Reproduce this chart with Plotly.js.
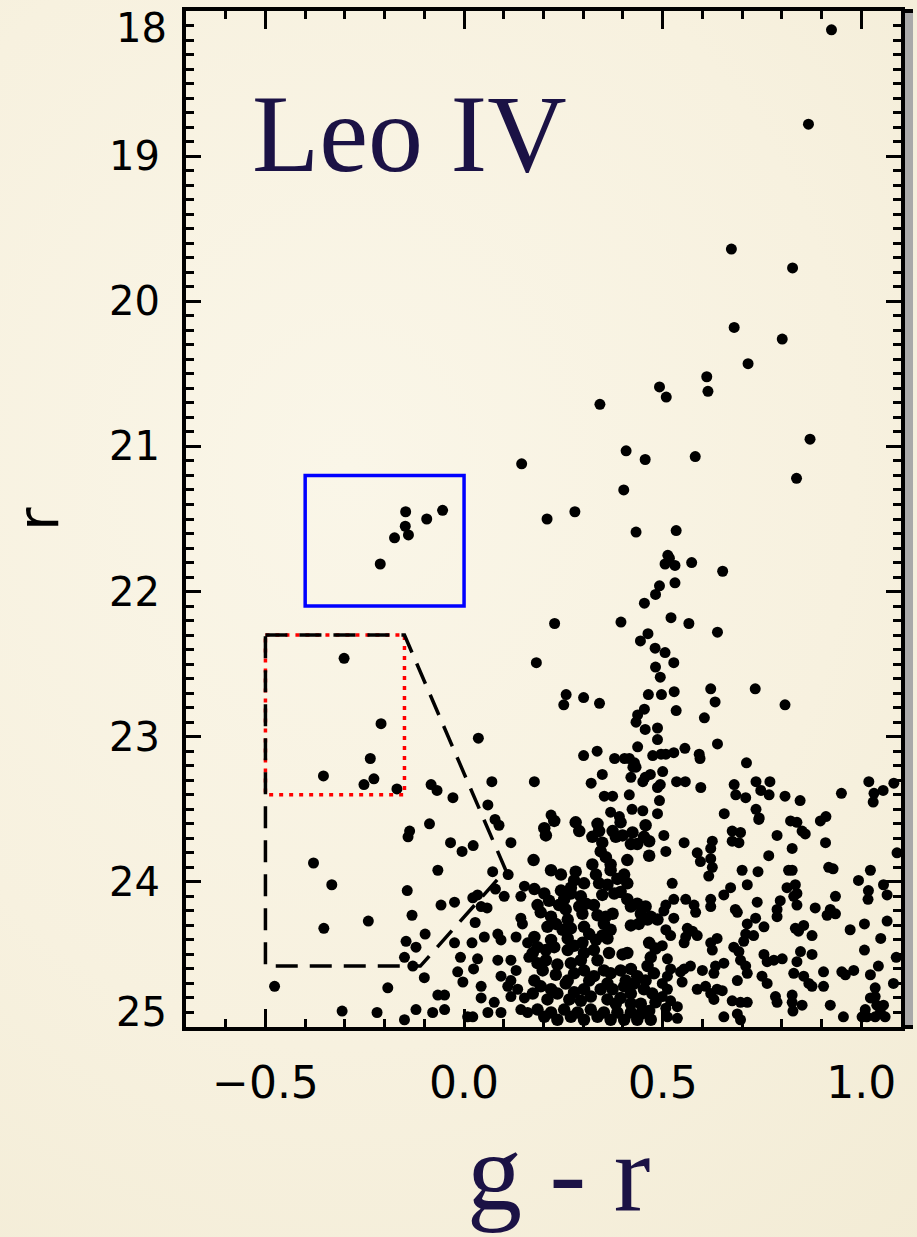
<!DOCTYPE html>
<html>
<head>
<meta charset="utf-8">
<script src="https://cdn.plot.ly/plotly-3.0.1.min.js"></script>
<style>
html,body{margin:0;padding:0;}
body{width:917px;height:1237px;overflow:hidden;
background: radial-gradient(ellipse 100% 85% at 38% 38%, #faf6e8 0%, #f7f1df 55%, #f2ebd4 100%);}
#chart{width:917px;height:1237px;}
</style>
</head>
<body>
<div id="chart"></div>
<script>
// ---- axis ticks ----
const xTickVals = [-0.5, 0.0, 0.5, 1.0];
const xTickText = ['\u22120.5', '0.0', '0.5', '1.0'];
const yTickVals = [18, 19, 20, 21, 22, 23, 24, 25];
const yTickText = ['18', '19', '20', '21', '22', '23', '24', '25'];

// ---- selection regions (g-r, r) ----
const bhbBoxGR = [-0.40, 0.00];
const bhbBoxR = [21.2, 22.1];
const bssBoxGR = [-0.50, -0.15];
const bssBoxR = [22.3, 23.4];
const dashedRegionGR = [-0.50, -0.15, 0.105, -0.11, -0.50];
const dashedRegionR = [22.3, 22.3, 23.92, 24.58, 24.58];

// ---- stars: [g-r, r] ----
const bhbStars = [[-0.147,21.45],[-0.054,21.44],[-0.094,21.50],[-0.148,21.55],[-0.140,21.61],[-0.175,21.63],[-0.211,21.81]];

const blueStars = [[-0.302,22.46],[-0.209,22.91],[-0.236,23.15],[-0.354,23.27],[-0.227,23.29],[-0.252,23.33],[-0.169,23.36],
[-0.379,23.87],[-0.333,24.02],[-0.353,24.32],[-0.241,24.27],[-0.477,24.72],[-0.192,24.73],[-0.307,24.89],[-0.219,24.90],
[-0.083,23.33],[-0.068,23.37],[-0.028,23.42],[0.036,23.01],[0.070,23.31],[0.060,23.47],[0.177,23.31],[0.219,23.54],[0.078,23.57],[0.088,23.61]];

const rgbStars = [[0.925,18.13],[0.867,18.78],[0.673,19.64],[0.827,19.77],[0.680,20.18],[0.801,20.26],[0.715,20.43],[0.611,20.52],
[0.614,20.62],[0.492,20.59],[0.509,20.66],[0.342,20.71],[0.871,20.95],[0.408,21.03],[0.456,21.09],[0.582,21.07],[0.145,21.12],
[0.837,21.22],[0.402,21.30],[0.279,21.45],[0.209,21.50],[0.433,21.59],[0.534,21.58],[0.513,21.75],[0.517,21.77],[0.506,21.81],
[0.531,21.82],[0.573,21.80],[0.651,21.86],[0.531,21.94],[0.492,21.96],[0.482,22.02],[0.454,22.08],[0.228,22.22],[0.395,22.21],
[0.521,22.18],[0.566,22.22],[0.638,22.28],[0.463,22.29],[0.444,22.34],[0.481,22.39],[0.506,22.42],[0.528,22.49],[0.182,22.49],
[0.482,22.52],[0.494,22.59],[0.621,22.67],[0.733,22.67],[0.257,22.71],[0.301,22.73],[0.464,22.71],[0.497,22.71],[0.529,22.69]];

const midStars = [[0.251,22.78],[0.341,22.77],[0.632,22.76],[0.534,22.82],[0.454,22.81],[0.437,22.85],[0.433,22.90],[0.605,22.87],
[0.808,22.78],[0.456,22.95],[0.487,22.94],[0.487,23.02],[0.638,23.05],[0.301,23.13],[0.335,23.10],[0.437,23.07],[0.379,23.15],
[0.404,23.15],[0.416,23.15],[0.429,23.18],[0.425,23.21],[0.433,23.21],[0.475,23.13],[0.496,23.12],[0.508,23.12],[0.528,23.11],
[0.556,23.08],[0.592,23.12],[0.594,23.15],[0.711,23.18],[0.348,23.26],[0.320,23.32],[0.420,23.28],[0.456,23.28],[0.469,23.26],
[0.450,23.31],[0.500,23.24],[0.494,23.33],[0.487,23.35],[0.535,23.31],[0.557,23.31],[0.596,23.35],[0.680,23.33],[0.684,23.40],
[0.709,23.42],[0.735,23.31],[0.770,23.31],[0.747,23.37],[0.768,23.40],[0.808,23.41],[0.846,23.44],[0.950,23.39],[1.019,23.31],
[1.032,23.39],[1.055,23.37],[1.030,23.45],[1.082,23.32],[0.353,23.41],[0.374,23.41],[0.416,23.40],[0.492,23.44],[0.423,23.50],
[0.450,23.51],[0.369,23.52],[0.391,23.55],[0.487,23.53],[0.655,23.53],[0.735,23.50],[0.743,23.56],[0.822,23.58],[0.911,23.55]];

const cloudA = [[-0.087,23.60],[-0.137,23.65],[-0.141,23.69],[-0.034,23.73],[-0.005,23.79],[0.023,23.75],[0.118,23.73],[-0.066,23.92],
[0.072,23.93],[0.111,23.95],[-0.143,24.06],[-0.058,24.16],[-0.024,24.14],[0.022,24.11],[0.034,24.09],[0.079,24.05],[0.101,24.10],
[0.152,24.03],[0.143,24.10],[0.058,24.18],[0.043,24.17],[-0.131,24.23],[0.028,24.28],[0.143,24.25],[0.147,24.29],[-0.098,24.36],
[-0.146,24.41],[-0.121,24.45],[-0.150,24.52],[-0.024,24.42],[0.020,24.42],[0.051,24.38],[0.085,24.36],[0.093,24.40],[-0.129,24.58],
[-0.100,24.66],[-0.009,24.52],[-0.016,24.62],[-0.003,24.69],[0.034,24.53],[0.024,24.60],[0.043,24.72],[0.085,24.54],[0.118,24.54],
[0.131,24.61],[0.093,24.65],[0.118,24.68],[0.110,24.72],[-0.066,24.78],[-0.049,24.78],[-0.121,24.88],[-0.079,24.90],[-0.049,24.88],
[0.022,24.93],[0.043,24.80],[0.060,24.90],[0.076,24.83],[0.093,24.90],[0.118,24.79],[0.135,24.74],[0.152,24.80],[0.143,24.88],
[0.160,24.90],[-0.150,24.95],[0.009,24.93],[0.131,24.38],[0.160,24.42],[0.163,24.52]];

const cloudB = [[0.202,23.63],[0.206,23.68],[0.227,23.58],[0.281,23.59],[0.290,23.65],[0.336,23.60],[0.340,23.65],[0.374,23.65],
[0.394,23.59],[0.382,23.69],[0.399,23.68],[0.424,23.66],[0.436,23.74],[0.420,23.74],[0.457,23.61],[0.453,23.69],[0.466,23.72],
[0.323,23.69],[0.348,23.73],[0.466,23.82],[0.411,23.85],[0.344,23.79],[0.357,23.83],[0.369,23.88],[0.323,23.88],[0.175,23.85],
[0.219,23.92],[0.244,23.95],[0.281,23.93],[0.277,23.99],[0.302,24.01],[0.269,24.04],[0.332,23.95],[0.340,24.01],[0.369,23.92],
[0.386,23.98],[0.403,23.95],[0.411,24.01],[0.361,24.02],[0.378,24.08],[0.348,24.09],[0.394,24.07],[0.411,24.12],[0.420,24.17],
[0.436,24.15],[0.445,24.22],[0.457,24.17],[0.470,24.24],[0.177,24.05],[0.202,24.08],[0.185,24.16],[0.214,24.13],[0.193,24.21],
[0.244,24.06],[0.252,24.12],[0.269,24.08],[0.239,24.16],[0.256,24.19],[0.294,24.10],[0.307,24.15],[0.327,24.16],[0.290,24.17],
[0.298,24.22],[0.336,24.23],[0.357,24.24],[0.374,24.22],[0.219,24.24],[0.210,24.31],[0.231,24.29],[0.261,24.26],[0.269,24.32],
[0.248,24.33],[0.302,24.31],[0.315,24.36],[0.352,24.29],[0.369,24.33],[0.348,24.37],[0.420,24.30],[0.440,24.29],[0.462,24.26],
[0.487,24.26],[0.177,24.38],[0.185,24.45],[0.173,24.49],[0.219,24.40],[0.206,24.47],[0.227,24.45],[0.261,24.39],[0.277,24.44],
[0.261,24.47],[0.298,24.42],[0.302,24.49],[0.294,24.54],[0.332,24.40],[0.327,24.47],[0.336,24.54],[0.361,24.39],[0.365,24.49],
[0.399,24.50],[0.411,24.49],[0.466,24.42],[0.470,24.52],[0.482,24.46],[0.185,24.56],[0.206,24.54],[0.198,24.61],[0.235,24.57],
[0.231,24.64],[0.269,24.56],[0.277,24.63],[0.261,24.68],[0.302,24.61],[0.315,24.68],[0.327,24.65],[0.352,24.61],[0.369,24.63],
[0.361,24.70],[0.394,24.61],[0.420,24.60],[0.407,24.68],[0.436,24.65],[0.462,24.58],[0.478,24.63],[0.457,24.68],[0.177,24.68],
[0.193,24.72],[0.173,24.77],[0.219,24.74],[0.235,24.77],[0.210,24.81],[0.256,24.70],[0.277,24.76],[0.265,24.81],[0.302,24.74],
[0.319,24.79],[0.294,24.82],[0.344,24.74],[0.374,24.74],[0.361,24.81],[0.382,24.84],[0.403,24.72],[0.420,24.77],[0.428,24.70],
[0.394,24.80],[0.420,24.84],[0.453,24.74],[0.474,24.77],[0.445,24.84],[0.482,24.83],[0.466,24.89],[0.185,24.88],[0.219,24.90],
[0.252,24.88],[0.286,24.90],[0.319,24.88],[0.352,24.90],[0.386,24.90],[0.420,24.90],[0.445,24.91],[0.202,24.93],[0.235,24.95],
[0.269,24.93],[0.302,24.95],[0.336,24.93],[0.369,24.95],[0.403,24.95],[0.436,24.95],[0.470,24.95]];

const cloudC = [[0.503,23.68],[0.508,23.79],[0.554,23.73],[0.587,23.80],[0.621,23.77],[0.625,23.72],[0.595,23.86],[0.621,23.84],
[0.625,23.90],[0.616,23.96],[0.675,23.65],[0.696,23.66],[0.675,23.72],[0.692,23.73],[0.742,23.57],[0.788,23.68],[0.767,23.82],
[0.817,23.92],[0.700,23.92],[0.740,23.93],[0.524,24.01],[0.713,24.02],[0.671,24.04],[0.654,24.09],[0.813,24.04],[0.528,24.12],
[0.508,24.16],[0.503,24.20],[0.558,24.12],[0.579,24.16],[0.583,24.21],[0.621,24.12],[0.621,24.17],[0.683,24.19],[0.688,24.21],
[0.738,24.14],[0.796,24.13],[0.788,24.19],[0.788,24.24],[0.528,24.25],[0.734,24.25],[0.713,24.29],[0.755,24.31],[0.508,24.33],
[0.520,24.37],[0.562,24.32],[0.575,24.34],[0.558,24.38],[0.587,24.37],[0.709,24.36],[0.704,24.41],[0.729,24.37],[0.554,24.42],
[0.499,24.44],[0.637,24.39],[0.621,24.42],[0.625,24.47],[0.679,24.45],[0.692,24.48],[0.696,24.54],[0.755,24.50],[0.763,24.55],
[0.780,24.54],[0.801,24.53],[0.512,24.53],[0.520,24.60],[0.512,24.65],[0.554,24.60],[0.570,24.58],[0.545,24.62],[0.600,24.61],
[0.633,24.58],[0.654,24.56],[0.629,24.63],[0.709,24.58],[0.713,24.63],[0.750,24.65],[0.763,24.70],[0.549,24.69],[0.688,24.68],
[0.499,24.70],[0.512,24.74],[0.499,24.79],[0.587,24.74],[0.608,24.72],[0.621,24.77],[0.637,24.74],[0.650,24.75],[0.784,24.79],
[0.788,24.83],[0.520,24.82],[0.537,24.86],[0.508,24.87],[0.629,24.81],[0.675,24.82],[0.696,24.83],[0.713,24.83],[0.512,24.93],
[0.537,24.94],[0.654,24.93],[0.688,24.91],[0.696,24.95]];

const cloudD = [[0.838,23.59],[0.851,23.65],[0.859,23.67],[0.897,23.58],[0.910,23.73],[0.826,23.77],[0.826,23.92],[0.918,23.90],
[0.929,23.91],[1.023,23.92],[0.993,23.99],[1.018,24.06],[1.017,24.12],[1.056,24.02],[1.065,24.09],[0.834,24.02],[0.838,24.08],
[0.830,24.10],[0.838,24.16],[0.884,24.18],[0.935,24.10],[0.922,24.19],[0.914,24.23],[0.935,24.22],[0.855,24.30],[0.834,24.32],
[0.842,24.34],[0.876,24.37],[0.972,24.33],[1.008,24.29],[1.065,24.27],[1.049,24.39],[0.847,24.48],[0.838,24.55],[0.876,24.50],
[1.008,24.47],[1.088,24.52],[1.043,24.58],[0.830,24.63],[0.855,24.65],[0.868,24.70],[0.876,24.72],[0.905,24.62],[0.951,24.62],
[0.960,24.64],[0.981,24.61],[1.023,24.64],[0.905,24.72],[1.035,24.73],[1.081,24.70],[0.826,24.78],[0.826,24.83],[0.851,24.85],
[0.922,24.85],[1.023,24.80],[1.035,24.79],[1.039,24.85],[1.056,24.85],[1.048,24.90],[1.010,24.88],[1.002,24.93],[1.014,24.93],
[0.955,24.93],[1.035,24.93],[1.060,24.93],[0.828,24.89],[1.090,23.80]];

const starGroups = [bhbStars, blueStars, rgbStars, midStars, cloudA, cloudB, cloudC, cloudD];
const denseGroups = [cloudB];

const traces = starGroups.map(g => ({
  type: 'scatter', mode: 'markers',
  x: g.map(p => p[0]), y: g.map(p => p[1]),
  marker: {color: '#000000', size: denseGroups.includes(g) ? 12.5 : 11, line: {width: 0}},
  hoverinfo: 'skip', cliponaxis: true
}));

function pathFrom(gr, r) {
  let s = 'M ' + gr[0] + ',' + r[0];
  for (let i = 1; i < gr.length; i++) s += ' L ' + gr[i] + ',' + r[i];
  return s + ' Z';
}

const inner = (v) => v.slice(1, -1);

const layout = {
  width: 917, height: 1237,
  margin: {l: 186, r: 16, t: 11, b: 210, pad: 0},
  paper_bgcolor: 'rgba(0,0,0,0)',
  plot_bgcolor: 'rgba(0,0,0,0)',
  showlegend: false,
  xaxis: {
    range: [-0.70, 1.10],
    tickmode: 'array', tickvals: xTickVals, ticktext: xTickText,
    ticks: 'inside', ticklen: 18, tickwidth: 3, tickcolor: '#000',
    showline: true, linewidth: 4, linecolor: '#000', mirror: 'allticks',
    showgrid: false, zeroline: false,
    tickfont: {family: 'DejaVu Sans', size: 44, color: '#000'},
    ticklabelstandoff: 14,
    minor: {tickmode: 'linear', tick0: 0, dtick: 0.1, ticks: 'inside', ticklen: 8, tickwidth: 3, tickcolor: '#000', showgrid: false}
  },
  yaxis: {
    range: [25, 18],
    tickmode: 'array', tickvals: inner(yTickVals), ticktext: inner(yTickText),
    ticks: 'inside', ticklen: 15, tickwidth: 3, tickcolor: '#000',
    showline: true, linewidth: 4, linecolor: '#000', mirror: 'allticks',
    showgrid: false, zeroline: false,
    tickfont: {family: 'DejaVu Sans', size: 40, color: '#000'},
    ticklabelstandoff: 14,
    minor: {tickmode: 'linear', tick0: 18, dtick: 0.1, ticks: 'inside', ticklen: 8, tickwidth: 3, tickcolor: '#000', showgrid: false}
  },
  shapes: [
    {type: 'rect', xref: 'paper', yref: 'paper', x0: 1.003, x1: 1.0168, y0: 0, y1: 1,
     fillcolor: '#a9a9a9', line: {width: 0}, layer: 'below'},
    {type: 'line', xref: 'paper', yref: 'paper', x0: 1.0, x1: 1.0168, y0: 1, y1: 1, line: {color: '#000', width: 4}},
    {type: 'line', xref: 'paper', yref: 'paper', x0: 1.0, x1: 1.0168, y0: 0, y1: 0, line: {color: '#000', width: 4}},
    {type: 'rect', xref: 'x', yref: 'y', x0: bhbBoxGR[0], x1: bhbBoxGR[1], y0: bhbBoxR[0], y1: bhbBoxR[1],
     line: {color: '#0000ff', width: 3.5}},
    {type: 'rect', xref: 'x', yref: 'y', x0: bssBoxGR[0], x1: bssBoxGR[1], y0: bssBoxR[0], y1: bssBoxR[1],
     line: {color: '#ff0000', width: 3.5, dash: '4px,6px'}},
    {type: 'path', xref: 'x', yref: 'y', path: pathFrom(dashedRegionGR, dashedRegionR),
     line: {color: '#000', width: 3.5, dash: '22px,12px'}}
  ],
  annotations: [
    {xref: 'paper', yref: 'y', x: 0, y: yTickVals[0], text: yTickText[0], showarrow: false,
     xanchor: 'right', yanchor: 'middle', xshift: -17, yshift: -17,
     font: {family: 'DejaVu Sans', size: 40, color: '#000'}},
    {xref: 'paper', yref: 'y', x: 0, y: yTickVals[yTickVals.length - 1], text: yTickText[yTickText.length - 1], showarrow: false,
     xanchor: 'right', yanchor: 'middle', xshift: -17, yshift: 15,
     font: {family: 'DejaVu Sans', size: 40, color: '#000'}},
    {xref: 'paper', yref: 'paper', x: 0.0895, y: 0.8785, text: 'Leo IV', showarrow: false,
     xanchor: 'left', yanchor: 'middle',
     font: {family: 'Liberation Serif', size: 110, color: '#1b1245'}},
    {xref: 'paper', yref: 'paper', x: 0.521, y: -0.1437, text: 'g - r', showarrow: false,
     xanchor: 'center', yanchor: 'middle',
     font: {family: 'Liberation Serif', size: 110, color: '#1b1245'}},
    {xref: 'paper', yref: 'paper', x: -0.207, y: 0.5, text: 'r', showarrow: false, textangle: -90,
     xanchor: 'center', yanchor: 'middle',
     font: {family: 'DejaVu Sans', size: 57, color: '#000'}}
  ]
};

Plotly.newPlot('chart', traces, layout, {staticPlot: true, displayModeBar: false});
</script>
</body>
</html>
